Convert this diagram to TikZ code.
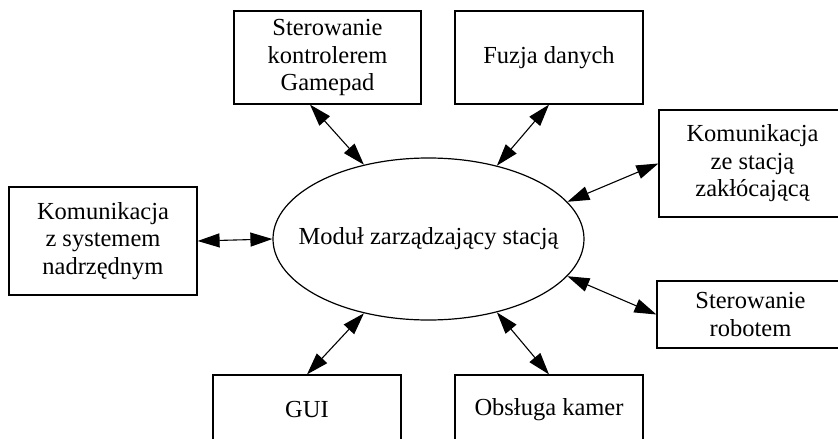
\documentclass[tikz,border=0pt]{standalone}
\usepackage{fontspec}
\setmainfont{Liberation Serif}
\usetikzlibrary{shapes.geometric,arrows.meta}
\begin{document}
\begin{tikzpicture}[x=1pt,y=-1pt,
  txt/.style={font=\fontsize{24.5}{27.5}\selectfont},
  box/.style={draw, line width=1.2pt, inner sep=0pt, align=center, txt},
  arr/.style={line width=1.1pt, {Triangle[length=22pt,width=14pt]}-{Triangle[length=22pt,width=14pt]}}]
\useasboundingbox (0,0) rectangle (838,439);
\clip (0,0) rectangle (838,439);
\node[draw, ellipse, line width=1.2pt, minimum width=311pt, minimum height=162pt, inner sep=0pt] (el) at (428.5,239) {};
\node[txt, inner sep=0pt] (elt) at (el.center) {Moduł zarządzający stacją};
\node[box, minimum width=187pt, minimum height=93pt] (gp) at (327.5,57.5) {Sterowanie\\kontrolerem\\Gamepad};
\node[box, minimum width=188pt, minimum height=93pt] (fz) at (549,57.5) {Fuzja danych};
\node[box, minimum width=187pt, minimum height=107pt] (ks) at (752.5,163.5) {Komunikacja\\ze stacją\\zakłócającą};
\node[box, minimum width=188pt, minimum height=108pt] (lb) at (103,241) {Komunikacja\\z systemem\\nadrzędnym};
\node[box, minimum width=187pt, minimum height=67pt] (rb) at (750.5,314.5) {Sterowanie\\robotem};
\node[box, minimum width=188pt, minimum height=70pt] (gui) at (307,410) {GUI};
\node[box, minimum width=188pt, minimum height=70pt] (ok) at (549,410) {Obsługa kamer};
\draw[arr] (lb.east) -- (el.180);
\draw[arr] ([xshift=-17.5pt]gp.south) -- (el.131);
\draw[arr] (fz.south) -- (el.47);
\draw[arr] (ks.west) -- (el.15);
\draw[arr] (rb.west) -- (el.-15.6);
\draw[arr] (gui.north) -- (el.229);
\draw[arr] (ok.north) -- (el.-47.6);
\end{tikzpicture}
\end{document}
